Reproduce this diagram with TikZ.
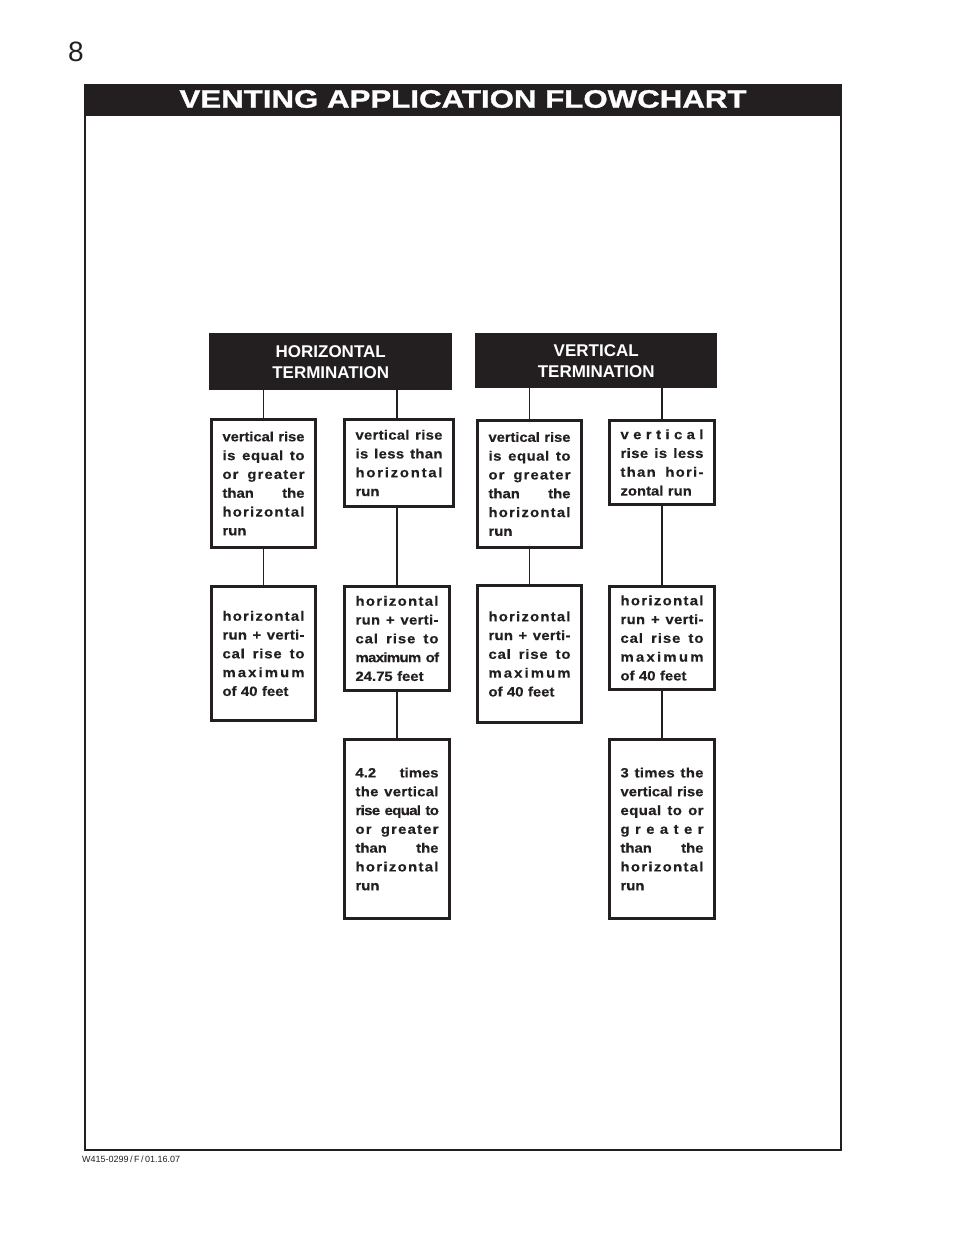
\documentclass[tikz,border=0pt]{standalone}
\usepackage{fontspec}
\setmainfont{Liberation Sans}
\newfontfamily\boxfont[FakeStretch=1.1, FakeBold=0.4]{Liberation Sans Bold}
\newfontfamily\titlefont[FakeStretch=1.24, FakeBold=1.2]{Liberation Sans Bold}
\definecolor{ink}{HTML}{231F20}
\setlength{\parindent}{0pt}

%% force a line to the box width: letters and (more) words are spread,
%% letters may also close up a little on a long line (\jl);
%% only the word gaps are spread (\jw)
\makeatletter
\def\lgap{\hskip 0pt plus 1fil minus .6pt\relax}
\def\wgap{\ \hskip 0pt plus 4fil\relax}
\def\sprd#1{\sprd@a#1\@nil}
\def\sprd@a#1#2\@nil{#1\ifx\relax#2\relax\else\lgap\sprd@a#2\@nil\fi}
\def\wrd@a#1 #2\@nil{\sprd{#1}\ifx\relax#2\relax\else\wgap\wrd@a#2\@nil\fi}
\def\wrd@b#1 #2\@nil{#1\ifx\relax#2\relax\else\ \hfil\wrd@b#2\@nil\fi}
\newcommand\jl[1]{\makebox[\hsize][s]{\wrd@a#1 \@nil}\\}
\newcommand\jw[1]{\makebox[\hsize][s]{\wrd@b#1 \@nil}\\}
\makeatother

\tikzset{
  termbox/.style={fill=ink, text=white, inner sep=0pt, anchor=north west,
    align=center, font=\bfseries\fontsize{17}{21}\selectfont},
  txtbox/.style={draw=ink, line width=3pt, inner xsep=11pt, inner ysep=5pt,
    anchor=north west, align=left, text=ink,
    font=\boxfont\fontsize{13.5}{18.8}\selectfont},
  link/.style={draw=ink, line width=1.2pt},
  thicklink/.style={draw=ink, line width=1.8pt},
}

\begin{document}
\begin{tikzpicture}[x=1pt, y=-1pt]
  \useasboundingbox (0,0) rectangle (954,1235);

  %% page frame and title
  \node[font=\fontsize{28}{30}\selectfont, text=ink] (pagenum) at (76,52) {8};
  \draw[ink, line width=1.5pt] (85,85) rectangle (841,1150);
  \node[fill=ink, inner sep=0pt, anchor=north west, minimum width=756pt,
    minimum height=31pt] (titlebar) at (85,85) {};
  \node[text=white, inner sep=0pt, font=\titlefont\fontsize{25.2}{27}\selectfont]
    (title) at (463,99) {VENTING APPLICATION FLOWCHART};
  \node[anchor=west, inner sep=0pt, text=ink, font=\fontsize{9}{10}\selectfont]
    (docref) at (82,1159) {W415-0299\,/\,F\,/\,01.16.07};

  %% terminations
  \node[termbox, minimum width=243pt, minimum height=57pt] (hterm) at (209,333)
    {HORIZONTAL\\TERMINATION};
  \node[termbox, minimum width=242pt, minimum height=55pt] (vterm) at (475,333)
    {VERTICAL\\TERMINATION};

  %% horizontal termination
  \node[txtbox, text width=82pt, minimum height=128pt] (b1) at (210,418)
    {\jl{vertical rise}\jl{is equal to}\jl{or greater}\jw{than the}\jl{horizontal}run};
  \node[txtbox, text width=87pt, minimum height=87pt] (b2) at (343,418)
    {\jl{vertical rise}\jl{is less than}\jl{horizontal}run};
  \node[txtbox, text width=82pt, minimum height=134pt] (c1) at (210,585)
    {\jl{horizontal}\jl{run + verti-}\jl{cal rise to}\jl{maximum}of 40 feet};
  \node[txtbox, text width=83pt, minimum height=104pt] (c2) at (343,585)
    {\jl{horizontal}\jl{run + verti-}\jl{cal rise to}\jl{maximum of}24.75 feet};
  \node[txtbox, text width=83pt, minimum height=179pt] (d2) at (343,738)
    {\jw{4.2 times}\jl{the vertical}\jl{rise equal to}\jl{or greater}\jw{than the}\jl{horizontal}run};

  %% vertical termination
  \node[txtbox, text width=82pt, minimum height=127pt] (b3) at (476,419)
    {\jl{vertical rise}\jl{is equal to}\jl{or greater}\jw{than the}\jl{horizontal}run};
  \node[txtbox, text width=83pt, minimum height=84pt] (b4) at (608,419)
    {\jl{vertical}\jl{rise is less}\jl{than hori-}zontal run};
  \node[txtbox, text width=82pt, minimum height=137pt] (c3) at (476,584)
    {\jl{horizontal}\jl{run + verti-}\jl{cal rise to}\jl{maximum}of 40 feet};
  \node[txtbox, text width=83pt, minimum height=103pt] (c4) at (608,585)
    {\jl{horizontal}\jl{run + verti-}\jl{cal rise to}\jl{maximum}of 40 feet};
  \node[txtbox, text width=83pt, minimum height=179pt] (d4) at (608,738)
    {\jl{3 times the}\jl{vertical rise}\jl{equal to or}\jl{greater}\jw{than the}\jl{horizontal}run};

  %% connectors
  \draw[thicklink] (hterm.south -| b1.north) -- (b1.north);
  \draw[thicklink] (hterm.south -| c2.north) -- (b2.north -| c2.north);
  \draw[link] (vterm.south -| b3.north) -- (b3.north);
  \draw[link] (vterm.south -| b4.north) -- (b4.north);
  \draw[link] (b1.south) -- (c1.north);
  \draw[link] (b2.south -| c2.north) -- (c2.north);
  \draw[link] (b3.south) -- (c3.north);
  \draw[link] (b4.south) -- (c4.north);
  \draw[thicklink] (c2.south) -- (d2.north);
  \draw[thicklink] (c4.south) -- (d4.north);
\end{tikzpicture}
\end{document}
